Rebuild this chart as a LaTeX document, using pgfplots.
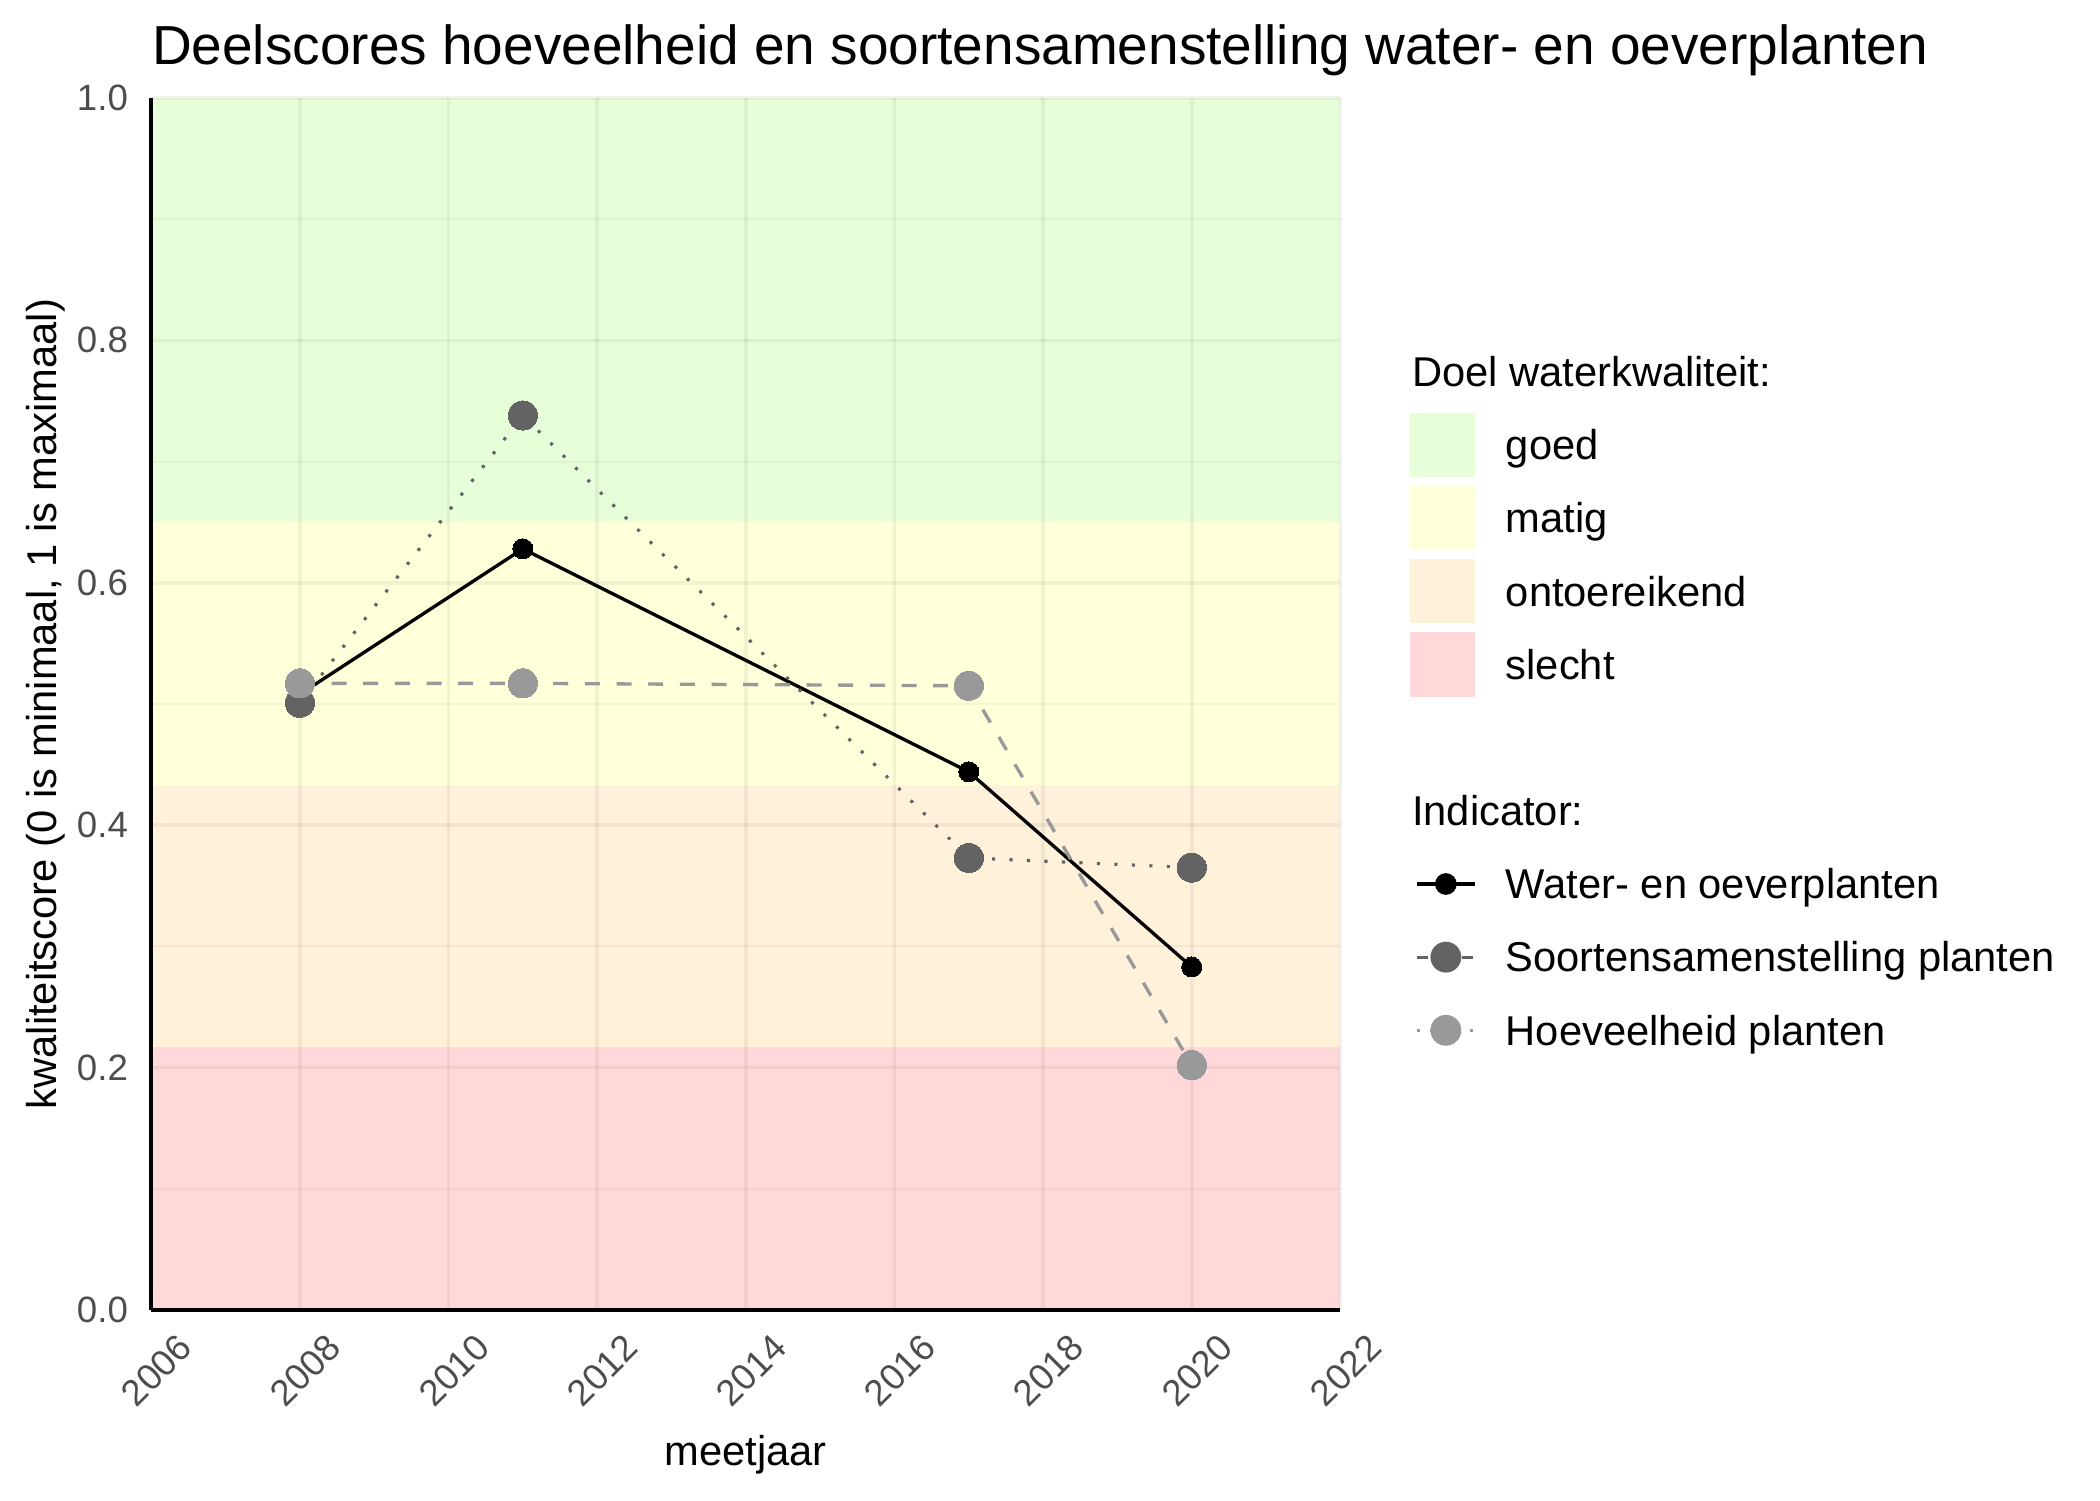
\documentclass[border=0pt]{standalone}
\usepackage{fontspec}
\setmainfont{Liberation Sans}
\usepackage{pgfplots}
\pgfplotsset{compat=1.18}
\definecolor{goed}{HTML}{E7FFD9}
\definecolor{matig}{HTML}{FFFFDA}
\definecolor{ontoe}{HTML}{FFF1DA}
\definecolor{slecht}{HTML}{FFD9DA}
\definecolor{darkpt}{HTML}{636363}
\definecolor{lightpt}{HTML}{999999}
\definecolor{tickgray}{HTML}{4D4D4D}

\begin{document}
\begin{tikzpicture}
\begin{axis}[
  at={(0,0)}, anchor=south west,
  scale only axis, width=285.4pt, height=290.9pt,
  set layers,
  xmin=2006, xmax=2022, ymin=0, ymax=1,
  xtick={2006,2008,2010,2012,2014,2016,2018,2020,2022},
  ytick={0,0.2,0.4,0.6,0.8,1},
  minor ytick={0.1,0.3,0.5,0.7,0.9},
  grid=both,
  major grid style={black, opacity=0.05, line width=0.85pt},
  minor grid style={black, opacity=0.045, line width=0.5pt},
  axis x line*=bottom, axis y line*=left,
  axis line style={black, line width=1.05pt, -},
  major tick length=0pt, minor tick length=0pt,
  /pgf/number format/assume math mode=true,
  /pgf/number format/1000 sep={},
  tick label style={font=\fontsize{8.8}{10}\selectfont, text=tickgray},
  y tick label style={/pgf/number format/.cd, fixed, fixed zerofill, precision=1, /tikz/.cd, anchor=east, inner sep=0pt, xshift=-5.4pt},
  x tick label style={yshift=-14.5pt, xshift=1.3pt, rotate=45, anchor=center, inner sep=0pt},
  xlabel={meetjaar},
  xlabel style={at={(axis description cs:0.5,-0.1279)}, anchor=base, font=\fontsize{10}{12}\selectfont, inner sep=0pt},
  ylabel={kwaliteitscore (0 is minimaal, 1 is maximaal)},
  ylabel style={at={(axis description cs:-0.0799,0.5)}, anchor=base, font=\fontsize{10}{12}\selectfont, inner sep=0pt},
  title={Deelscores hoeveelheid en soortensamenstelling water- en oeverplanten},
  every axis title/.style={at={(axis description cs:0,1.0277)}, anchor=base west, font=\fontsize{13.2}{15}\selectfont, inner sep=0pt},
  legend cell align=left,
  legend style={at={(axis description cs:1.0589,0.8005)}, anchor=north west, draw=none, fill=none,
    inner sep=0pt, outer sep=0pt, row sep=2.16pt, column sep=7.1pt,
    font=\fontsize{10}{12}\selectfont,
    nodes={inner sep=0pt, minimum height=15.4pt, text height=8.2pt, text depth=1.1pt, anchor=west}},
]
\addlegendimage{empty legend}
\addlegendentry{\hspace*{-22.5pt}Doel waterkwaliteit:}

\addplot[on layer=axis background, draw=none, fill=goed,
  legend image code/.code={\fill[goed] (0pt,-7.7pt) rectangle (15.4pt,7.7pt);}]
  coordinates {(2006,0.65) (2022,0.65) (2022,1) (2006,1)};
\addlegendentry{goed}
\addplot[on layer=axis background, draw=none, fill=matig,
  legend image code/.code={\fill[matig] (0pt,-7.7pt) rectangle (15.4pt,7.7pt);}]
  coordinates {(2006,0.4333) (2022,0.4333) (2022,0.65) (2006,0.65)};
\addlegendentry{matig}
\addplot[on layer=axis background, draw=none, fill=ontoe,
  legend image code/.code={\fill[ontoe] (0pt,-7.7pt) rectangle (15.4pt,7.7pt);}]
  coordinates {(2006,0.2167) (2022,0.2167) (2022,0.4333) (2006,0.4333)};
\addlegendentry{ontoereikend}
\addplot[on layer=axis background, draw=none, fill=slecht,
  legend image code/.code={\fill[slecht] (0pt,-7.7pt) rectangle (15.4pt,7.7pt);}]
  coordinates {(2006,0) (2022,0) (2022,0.2167) (2006,0.2167)};
\addlegendentry{slecht}

\addlegendimage{empty legend}
\addlegendentry{\mbox{}}
\addlegendimage{empty legend}
\addlegendentry{\hspace*{-22.5pt}Indicator:}

% lines
\addplot[forget plot, black, line width=0.8pt]
  coordinates {(2008,0.508) (2011,0.628) (2017,0.444) (2020,0.283)};
\addplot[forget plot, darkpt, line width=0.75pt, dash pattern=on 0.75pt off 3.45pt]
  coordinates {(2008,0.501) (2011,0.738) (2017,0.373) (2020,0.365)};
\addplot[forget plot, lightpt, line width=0.8pt, dash pattern=on 3.6pt off 4pt]
  coordinates {(2008,0.517) (2011,0.517) (2017,0.515) (2020,0.202)};

% markers
\addplot[black, only marks, mark=*, mark size=2.4pt, mark options={solid, fill=black, draw=black, line width=0pt},
  legend image code/.code={\draw[black, line width=0.8pt] (1.6pt,0pt) -- (15.4pt,0pt);
     \fill[black] (8.5pt,0pt) circle (2.4pt);}]
  coordinates {(2008,0.508) (2011,0.628) (2017,0.444) (2020,0.283)};
\addlegendentry{Water- en oeverplanten}
\addplot[darkpt, only marks, mark=*, mark size=3.5pt, mark options={solid, fill=darkpt, draw=darkpt, line width=0pt},
  legend image code/.code={\draw[darkpt, line width=0.7pt, dash pattern=on 2.7pt off 2.7pt] (1.6pt,0pt) -- (15.4pt,0pt);
     \fill[darkpt] (8.5pt,0pt) circle (3.5pt);}]
  coordinates {(2008,0.501) (2011,0.738) (2017,0.373) (2020,0.365)};
\addlegendentry{Soortensamenstelling planten}
\addplot[lightpt, only marks, mark=*, mark size=3.5pt, mark options={solid, fill=lightpt, draw=lightpt, line width=0pt},
  legend image code/.code={\draw[lightpt, line width=0.7pt, dash pattern=on 0.7pt off 2.5pt] (1.6pt,0pt) -- (15.4pt,0pt);
     \fill[lightpt] (8.5pt,0pt) circle (3.5pt);}]
  coordinates {(2008,0.517) (2011,0.517) (2017,0.515) (2020,0.202)};
\addlegendentry{Hoeveelheid planten}
\end{axis}
\pgfresetboundingbox
\useasboundingbox (-36.3pt,-45.6pt) rectangle (467.7pt,314.4pt);
\end{tikzpicture}
\end{document}
